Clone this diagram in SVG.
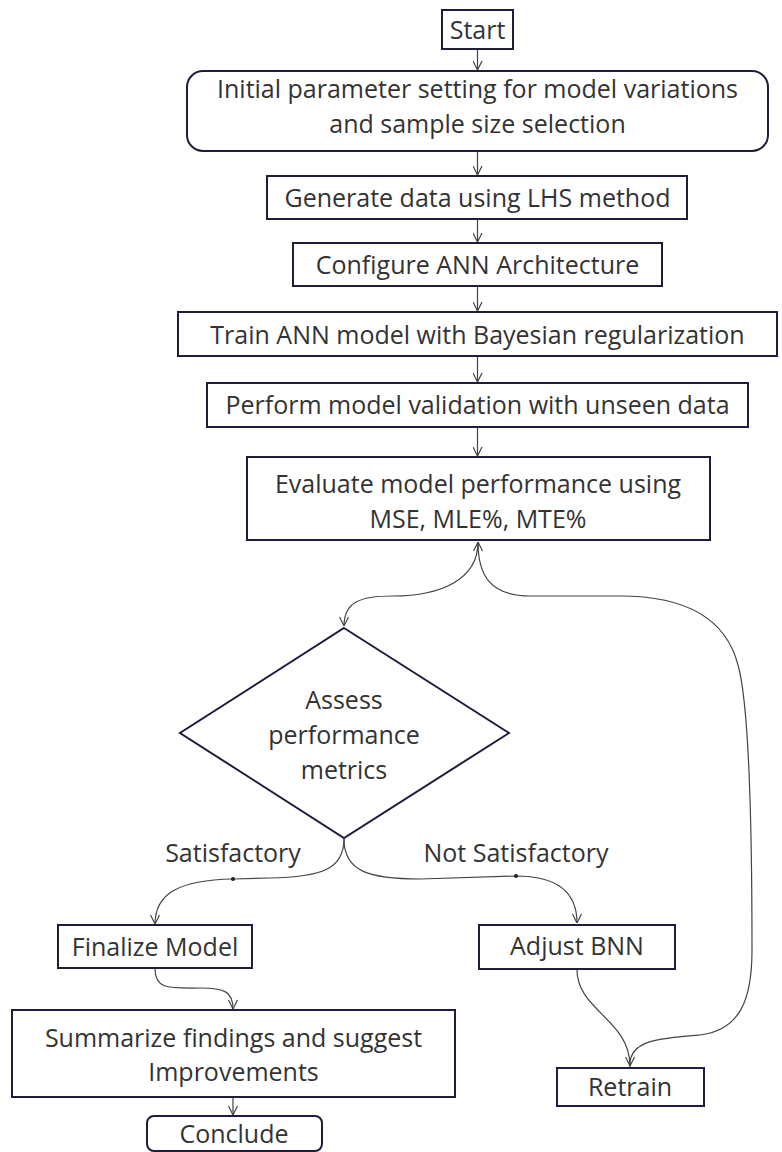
<svg xmlns="http://www.w3.org/2000/svg" width="782" height="1152" viewBox="0 0 782 1152">
<style>
.box{fill:#fff;stroke:#1e1e3c;stroke-width:2}
.t{font-family:"Open Sans","Noto Sans",sans-serif;font-size:25px;fill:#333;text-anchor:middle}
.c{fill:none;stroke:#444;stroke-width:1.2}
</style>
<defs>
<marker id="ah" viewBox="0 0 10 10" refX="10" refY="5" markerWidth="10" markerHeight="10" markerUnits="userSpaceOnUse" orient="auto">
<path d="M1,0.5 L10,5 L1,9.5" fill="none" stroke="#444" stroke-width="1.2"/>
</marker>
</defs>
<rect width="782" height="1152" fill="#fff"/>
<g id="connectors">
<path class="c" d="M477.5,49 L477.5,70" marker-end="url(#ah)"/>
<path class="c" d="M477.5,151 L477.5,175" marker-end="url(#ah)"/>
<path class="c" d="M477.5,219 L477.5,242" marker-end="url(#ah)"/>
<path class="c" d="M477.5,286 L477.5,311" marker-end="url(#ah)"/>
<path class="c" d="M477.5,356 L477.5,382" marker-end="url(#ah)"/>
<path class="c" d="M477.5,427 L477.5,456" marker-end="url(#ah)"/>
<path class="c" d="M478,542 C478,580 440,596 393,596 C360,596 344,602 344,626" marker-end="url(#ah)"/>
<path class="c" d="M630,1067 C628,1040 660,1038 700,1035 C740,1030 752,1000 752,950 C752,800 748,700 738,665 C725,615 680,596 620,596 L530,596 C490,596 478,575 478,542" marker-end="url(#ah)"/>
<path class="c" d="M344,839 C344,870 320,877 270,878 L233,879 C180,880 155,893 155,924" marker-end="url(#ah)"/>
<path class="c" d="M344,839 C344,872 370,879 420,879 L516,876 C560,876 577,895 577,923" marker-end="url(#ah)"/>
<path class="c" d="M155,969 C155,990 170,988 200,988 C225,988 233,992 233,1009" marker-end="url(#ah)"/>
<path class="c" d="M233,1097 L233,1115" marker-end="url(#ah)"/>
<path class="c" d="M577,970 C577,1010 630,1020 630,1066" marker-end="url(#ah)"/>
<circle cx="233" cy="879" r="2" fill="#222"/>
<circle cx="516" cy="876" r="2" fill="#222"/>
<text class="t" x="233" y="862">Satisfactory</text>
<text class="t" x="516" y="862">Not Satisfactory</text>
</g>
<g id="start"><rect class="box" x="442" y="10" width="71" height="39"/><text class="t" x="477.5" y="39">Start</text></g>
<g id="initial"><rect class="box" x="187" y="71" width="581" height="80" rx="16"/><text class="t" x="477.5" y="98">Initial parameter setting for model variations</text><text class="t" x="477.5" y="133">and sample size selection</text></g>
<g id="generate"><rect class="box" x="267" y="176" width="420" height="43"/><text class="t" x="477.5" y="207">Generate data using LHS method</text></g>
<g id="configure"><rect class="box" x="293" y="243" width="369" height="43"/><text class="t" x="477.5" y="274">Configure ANN Architecture</text></g>
<g id="train"><rect class="box" x="178" y="312" width="599" height="44"/><text class="t" x="477.5" y="344">Train ANN model with Bayesian regularization</text></g>
<g id="perform"><rect class="box" x="207" y="383" width="541" height="44"/><text class="t" x="477.5" y="414">Perform model validation with unseen data</text></g>
<g id="evaluate"><rect class="box" x="247" y="457" width="463" height="83"/><text class="t" x="478" y="493">Evaluate model performance using</text><text class="t" x="478" y="528">MSE, MLE%, MTE%</text></g>
<g id="assess"><polygon class="box" points="344,628 509,733 344,838 180,733"/><text class="t" x="344" y="709">Assess</text><text class="t" x="344" y="744">performance</text><text class="t" x="344" y="779">metrics</text></g>
<g id="finalize"><rect class="box" x="58" y="925" width="194" height="43"/><text class="t" x="155" y="956">Finalize Model</text></g>
<g id="adjust"><rect class="box" x="479" y="925" width="196" height="44"/><text class="t" x="577" y="955">Adjust BNN</text></g>
<g id="summarize"><rect class="box" x="12" y="1010" width="443" height="87"/><text class="t" x="233.5" y="1047">Summarize findings and suggest</text><text class="t" x="233.5" y="1081">Improvements</text></g>
<g id="conclude"><rect class="box" x="147" y="1116" width="175" height="35" rx="7"/><text class="t" x="234" y="1143">Conclude</text></g>
<g id="retrain"><rect class="box" x="557" y="1068" width="147" height="38"/><text class="t" x="630" y="1096">Retrain</text></g>
</svg>
